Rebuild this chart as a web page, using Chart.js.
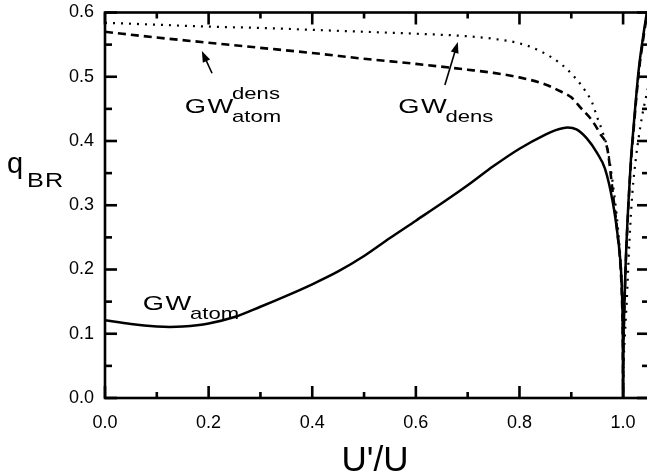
<!DOCTYPE html>
<html>
<head>
<meta charset="utf-8">
<script src="https://cdn.jsdelivr.net/npm/chart.js@4/dist/chart.umd.min.js"></script>
<style>
  html, body { margin: 0; padding: 0; background: #fff; overflow: hidden; }
  #wrap { width: 652px; height: 476px; }
</style>
</head>
<body>
<div id="wrap"><canvas id="chart"></canvas></div>
<script>
// GW_atom (solid)
const uAtom = [0, 0.05, 0.1, 0.125, 0.15, 0.2, 0.25, 0.3, 0.35, 0.4, 0.45, 0.5, 0.55, 0.6, 0.65, 0.7, 0.75, 0.8, 0.85, 0.87, 0.893, 0.91, 0.93, 0.95, 0.965, 0.98, 0.99, 0.995, 0.998, 0.9995, 1.0, 1.0005, 1.002, 1.005, 1.01, 1.015, 1.02, 1.03, 1.04, 1.05];
const qAtom = [0.121, 0.115, 0.1112, 0.1105, 0.1112, 0.116, 0.126, 0.142, 0.159, 0.177, 0.197, 0.221, 0.249, 0.276, 0.303, 0.331, 0.361, 0.388, 0.410, 0.417, 0.421, 0.418, 0.404, 0.381, 0.357, 0.305, 0.25, 0.21, 0.16, 0.09, 0, 0.07, 0.13, 0.21, 0.30, 0.37, 0.42, 0.51, 0.57, 0.62];

// GW_atom^dens (dashed)
const uAtomDens = [0, 0.1, 0.2, 0.3, 0.4, 0.5, 0.6, 0.7, 0.75, 0.8, 0.85, 0.88, 0.9, 0.92, 0.94, 0.955, 0.97, 0.98, 0.99, 0.995, 0.998, 0.9995, 1.0, 1.0005, 1.002, 1.005, 1.01, 1.015, 1.02, 1.03, 1.04, 1.05];
const qAtomDens = [0.570, 0.561, 0.553, 0.545, 0.537, 0.528, 0.520, 0.511, 0.506, 0.499, 0.488, 0.477, 0.468, 0.450, 0.432, 0.412, 0.386, 0.32, 0.25, 0.205, 0.15, 0.085, 0, 0.065, 0.125, 0.205, 0.295, 0.365, 0.415, 0.505, 0.565, 0.615];

// GW_dens (dotted)
const uDens = [0, 0.1, 0.2, 0.3, 0.4, 0.5, 0.6, 0.7, 0.75, 0.8, 0.84, 0.88, 0.9, 0.92, 0.94, 0.95, 0.96, 0.97, 0.98, 0.99, 0.995, 0.998, 0.9995, 1.0, 1.001, 1.003, 1.007, 1.012, 1.018, 1.025, 1.03, 1.037, 1.05];
const qDens = [0.584, 0.581, 0.578, 0.576, 0.573, 0.570, 0.567, 0.563, 0.559, 0.552, 0.540, 0.520, 0.505, 0.486, 0.460, 0.437, 0.415, 0.387, 0.335, 0.265, 0.215, 0.165, 0.1, 0, 0.05, 0.09, 0.15, 0.24, 0.32, 0.375, 0.405, 0.44, 0.49];

// 軸の目盛
const xTicks = [0, 0.2, 0.4, 0.6, 0.8, 1.0];
const yTicks = [0, 0.1, 0.2, 0.3, 0.4, 0.5, 0.6];

const FONT = '"Liberation Sans", Arial, Helvetica, sans-serif';

function pts(u, q) {
  return u.map((v, i) => ({ x: v, y: q[i] }));
}

// 枠線、内向きの目盛、注記
const framePlugin = {
  id: 'frame',
  afterDraw(chart) {
    const { ctx, chartArea: a, scales: { x, y } } = chart;
    ctx.save();
    ctx.setLineDash([]);
    ctx.strokeStyle = '#000';
    ctx.fillStyle = '#000';
    const seg = (x1, y1, x2, y2) => {
      ctx.beginPath(); ctx.moveTo(x1, y1); ctx.lineTo(x2, y2); ctx.stroke();
    };
    ctx.lineWidth = 2.6;
    ctx.strokeRect(a.left, a.top, a.right - a.left, a.bottom - a.top);

    // 目盛
    const tw = 2.6;
    for (let i = 0; i <= 10; i++) {
      const px = x.getPixelForValue(i / 10);
      const len = i % 2 ? 6 : 12;
      ctx.fillRect(px - tw / 2, a.bottom - len, tw, len);
      ctx.fillRect(px - tw / 2, a.top, tw, len);
    }
    for (let i = 0; i <= 12; i++) {
      const py = y.getPixelForValue(i * 0.05);
      const len = i % 2 ? 7 : 12;
      ctx.fillRect(a.left, py - tw / 2, len, tw);
      ctx.fillRect(a.right - len, py - tw / 2, len, tw);
    }

    ctx.textBaseline = 'alphabetic';
    ctx.textAlign = 'left';

    // GW ラベル (横に少し伸ばす)
    const gw = (u, q, sup, sub) => {
      const px = x.getPixelForValue(u), py = y.getPixelForValue(q);
      ctx.save();
      ctx.translate(px, py);
      ctx.scale(1.3, 1);
      ctx.font = '21px ' + FONT;
      ctx.fillText('G', 0, 0);
      ctx.fillText('W', 17.5, 0);
      const w = 17.5 + ctx.measureText('W').width;
      ctx.font = '17px ' + FONT;
      if (sup) ctx.fillText(sup, w - 1, -14);
      if (sub) ctx.fillText(sub, w - 1, 9);
      ctx.restore();
    };
    gw(0.154, 0.443, 'dens', 'atom');
    gw(0.566, 0.443, null, 'dens');
    gw(0.073, 0.137, null, 'atom');

    // 矢印
    const arrow = (u1, q1, u2, q2) => {
      const x1 = x.getPixelForValue(u1), y1 = y.getPixelForValue(q1);
      const x2 = x.getPixelForValue(u2), y2 = y.getPixelForValue(q2);
      const ang = Math.atan2(y2 - y1, x2 - x1);
      const hl = 11, hw = 4;
      ctx.lineWidth = 1.6;
      seg(x1, y1, x2 - hl * 0.7 * Math.cos(ang), y2 - hl * 0.7 * Math.sin(ang));
      ctx.beginPath();
      ctx.moveTo(x2, y2);
      ctx.lineTo(x2 - hl * Math.cos(ang) + hw * Math.sin(ang), y2 - hl * Math.sin(ang) - hw * Math.cos(ang));
      ctx.lineTo(x2 - hl * Math.cos(ang) - hw * Math.sin(ang), y2 - hl * Math.sin(ang) + hw * Math.cos(ang));
      ctx.closePath();
      ctx.fill();
    };
    arrow(0.2066, 0.5054, 0.187, 0.540);
    arrow(0.656, 0.487, 0.681, 0.554);

    // 軸タイトル
    ctx.font = '29px ' + FONT;
    ctx.fillText('q', 7, 173);
    ctx.save();
    ctx.translate(27, 187);
    ctx.scale(1.2, 1);
    ctx.font = '21px ' + FONT;
    ctx.fillText('B', 0, 0);
    ctx.fillText('R', 15, 0);
    ctx.restore();

    ctx.font = '35px ' + FONT;
    ctx.textAlign = 'center';
    ctx.fillText("U'/U", 375, 471);
    ctx.restore();
  }
};

const ctx = document.getElementById('chart').getContext('2d');
const myChart = new Chart(ctx, {
  type: 'scatter',
  data: {
    datasets: [
      {
        label: 'GW_atom',
        data: pts(uAtom, qAtom),
        showLine: true,
        borderColor: '#000',
        borderWidth: 2.5,
        pointRadius: 0,
        cubicInterpolationMode: 'monotone'
      },
      {
        label: 'GW_atom^dens',
        data: pts(uAtomDens, qAtomDens),
        showLine: true,
        borderColor: '#000',
        borderWidth: 2.6,
        borderDash: [8, 5],
        pointRadius: 0,
        cubicInterpolationMode: 'monotone'
      },
      {
        label: 'GW_dens',
        data: pts(uDens, qDens),
        showLine: true,
        borderColor: '#000',
        borderWidth: 2.2,
        borderDash: [2, 6],
        pointRadius: 0,
        cubicInterpolationMode: 'monotone'
      }
    ]
  },
  options: {
    responsive: true,
    maintainAspectRatio: false,
    animation: false,
    layout: { padding: { top: 12.5, right: 3, left: 0, bottom: 0 } },
    plugins: {
      legend: { display: false },
      tooltip: { enabled: false }
    },
    scales: {
      x: {
        type: 'linear',
        min: 0,
        max: 1.05,
        grid: { display: false, drawTicks: false },
        border: { display: false },
        afterBuildTicks: (scale) => { scale.ticks = xTicks.map(v => ({ value: v })); },
        afterFit: (scale) => { scale.height = 78; },
        ticks: {
          padding: 14,
          color: '#000',
          font: { family: FONT, size: 18 },
          maxRotation: 0,
          callback: (v) => Number(v).toFixed(1)
        }
      },
      y: {
        type: 'linear',
        min: 0,
        max: 0.6,
        grid: { display: false, drawTicks: true, tickLength: 11 },
        border: { display: false },
        afterBuildTicks: (scale) => { scale.ticks = yTicks.map(v => ({ value: v })); },
        afterFit: (scale) => { scale.width = 105; },
        ticks: {
          padding: 0,
          color: '#000',
          font: { family: FONT, size: 18 },
          callback: (v) => Number(v).toFixed(1)
        }
      }
    }
  },
  plugins: [framePlugin]
});
</script>
</body>
</html>
